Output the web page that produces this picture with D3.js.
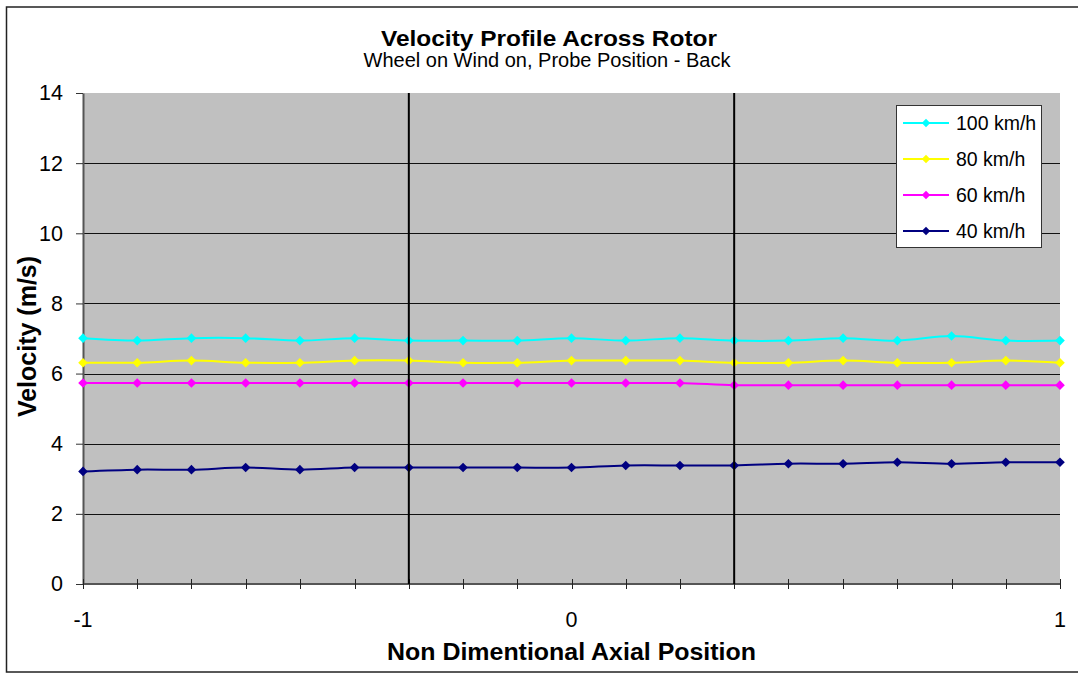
<!DOCTYPE html>
<html>
<head>
<meta charset="utf-8">
<script src="https://cdn.jsdelivr.net/npm/d3@7"></script>
<style>
body { margin: 0; background: #fff; }
svg { display: block; font-family: Arial, "Liberation Sans", sans-serif; }
</style>
</head>
<body>
<svg width="1078" height="673"></svg>
<script>
// axial positions of the probe (non dimentional)
var positions = [-1, -0.889, -0.778, -0.667, -0.556, -0.444, -0.333, -0.222, -0.111, 0,
	0.111, 0.222, 0.333, 0.444, 0.556, 0.667, 0.778, 0.889, 1];

// measured velocity (m/s) per wind speed
var speed100 = [7.01, 6.94, 7.01, 7.01, 6.94, 7.01, 6.94, 6.94, 6.94, 7.01,
	6.94, 7.01, 6.94, 6.94, 7.01, 6.94, 7.07, 6.94, 6.94];
var speed80 = [6.31, 6.31, 6.37, 6.31, 6.31, 6.37, 6.37, 6.31, 6.31, 6.37,
	6.37, 6.37, 6.31, 6.31, 6.37, 6.31, 6.31, 6.37, 6.31];
var speed60 = [5.73, 5.73, 5.73, 5.73, 5.73, 5.73, 5.73, 5.73, 5.73, 5.73,
	5.73, 5.73, 5.67, 5.67, 5.67, 5.67, 5.67, 5.67, 5.67];
var speed40 = [3.21, 3.26, 3.26, 3.32, 3.26, 3.32, 3.32, 3.32, 3.32, 3.32,
	3.38, 3.38, 3.38, 3.43, 3.43, 3.47, 3.43, 3.47, 3.47];

var seriesNames = ["100 km/h", "80 km/h", "60 km/h", "40 km/h"];
var seriesValues = [speed100, speed80, speed60, speed40];
var seriesColors = ["#00ffff", "#ffff00", "#ff00ff", "#000080"];

var yTicks = [0, 2, 4, 6, 8, 10, 12, 14];
var xTickLabels = [-1, 0, 1];
var dividers = [-0.333, 0.333];

var svg = d3.select("svg");
var plotLeft = 83, plotRight = 1060, plotTop = 93, plotBottom = 584;

var x = d3.scaleLinear().domain([-1, 1]).range([plotLeft, plotRight]);
var y = d3.scaleLinear().domain([0, 14]).range([plotBottom, plotTop]);

//outer chart border (runs off the right edge like the original)
svg.append("rect")
	.attr("x", 6.5).attr("y", 7)
	.attr("width", 1080).attr("height", 665)
	.attr("fill", "#fff")
	.attr("stroke", "#222")
	.attr("stroke-width", 1.5);

//plot background
svg.append("rect")
	.attr("x", plotLeft).attr("y", plotTop)
	.attr("width", plotRight - plotLeft).attr("height", plotBottom - plotTop)
	.attr("fill", "#c0c0c0");

//horizontal gridlines
svg.append("g").selectAll("line")
	.data(yTicks.filter(function(d) { return d > 0 && d < 14; }))
	.enter().append("line")
	.attr("x1", plotLeft).attr("x2", plotRight)
	.attr("y1", function(d) { return Math.round(y(d)) + 0.5; })
	.attr("y2", function(d) { return Math.round(y(d)) + 0.5; })
	.attr("stroke", "#111")
	.attr("stroke-width", 1);

//y axis
var yAxis = svg.append("g")
	.attr("transform", "translate(" + plotLeft + ",0)")
	.call(d3.axisLeft(y).tickValues(yTicks).tickSize(7).tickPadding(13).tickSizeOuter(0));
yAxis.select(".domain").attr("stroke", "#555").attr("stroke-width", 2);
yAxis.selectAll(".tick line").attr("stroke", "#333");
yAxis.selectAll(".tick text")
	.attr("font-size", 21.5)
	.attr("font-family", "Arial, 'Liberation Sans', sans-serif")
	.attr("fill", "#000");

//x axis line
svg.append("line")
	.attr("x1", plotLeft).attr("x2", plotRight)
	.attr("y1", plotBottom).attr("y2", plotBottom)
	.attr("stroke", "#555").attr("stroke-width", 2);

//x axis ticks cross the axis line
svg.append("g").selectAll("line")
	.data(positions)
	.enter().append("line")
	.attr("x1", function(d) { return Math.round(x(d)) + 0.5; })
	.attr("x2", function(d) { return Math.round(x(d)) + 0.5; })
	.attr("y1", plotBottom - 5)
	.attr("y2", plotBottom + 5)
	.attr("stroke", "#222");

svg.append("g").selectAll("text")
	.data(xTickLabels)
	.enter().append("text")
	.attr("x", function(d) { return x(d); })
	.attr("y", 627)
	.attr("text-anchor", "middle")
	.attr("font-size", 21.5)
	.text(function(d) { return d; });

//series lines and markers
var line = d3.line()
	.x(function(d, i) { return x(positions[i]); })
	.y(function(d) { return y(d); })
	.curve(d3.curveCatmullRom);

var diamond = "M0,-4.8L4.8,0L0,4.8L-4.8,0Z";

for (var s = 0; s < seriesValues.length; s++)
{
	var g = svg.append("g");
	g.append("path")
		.attr("d", line(seriesValues[s]))
		.attr("fill", "none")
		.attr("stroke", seriesColors[s])
		.attr("stroke-width", 2);
	g.selectAll("path.pt")
		.data(seriesValues[s])
		.enter().append("path")
		.attr("class", "pt")
		.attr("d", diamond)
		.attr("transform", function(d, i) { return "translate(" + x(positions[i]) + "," + y(d) + ")"; })
		.attr("fill", seriesColors[s]);
}

//vertical divider lines
svg.append("g").selectAll("line")
	.data(dividers)
	.enter().append("line")
	.attr("x1", function(d) { return x(d); })
	.attr("x2", function(d) { return x(d); })
	.attr("y1", plotTop).attr("y2", plotBottom)
	.attr("stroke", "#000")
	.attr("stroke-width", 2);

//legend
var legend = svg.append("g").attr("transform", "translate(896,105)");
legend.append("rect")
	.attr("x", 0.5).attr("y", 0.5)
	.attr("width", 145).attr("height", 142)
	.attr("fill", "#fff")
	.attr("stroke", "#333");
var items = legend.selectAll("g.item")
	.data(seriesNames)
	.enter().append("g")
	.attr("class", "item")
	.attr("transform", function(d, i) { return "translate(0," + (18 + i * 36) + ")"; });
items.append("line")
	.attr("x1", 7).attr("x2", 53)
	.attr("stroke", function(d, i) { return seriesColors[i]; })
	.attr("stroke-width", 2);
items.append("path")
	.attr("d", "M0,-4.2L4.2,0L0,4.2L-4.2,0Z")
	.attr("transform", "translate(30,0)")
	.attr("fill", function(d, i) { return seriesColors[i]; });
items.append("text")
	.attr("x", 60)
	.attr("dy", "0.35em")
	.attr("font-size", 19.5)
	.text(function(d) { return d; });

//titles
svg.append("text")
	.attr("x", 549).attr("y", 46)
	.attr("text-anchor", "middle")
	.attr("font-size", 22)
	.attr("font-weight", "bold")
	.attr("textLength", 336)
	.attr("lengthAdjust", "spacingAndGlyphs")
	.text("Velocity Profile  Across Rotor");
svg.append("text")
	.attr("x", 547).attr("y", 67)
	.attr("text-anchor", "middle")
	.attr("font-size", 20)
	.text("Wheel on Wind on, Probe Position - Back");

svg.append("text")
	.attr("x", (plotLeft + plotRight) / 2).attr("y", 660)
	.attr("text-anchor", "middle")
	.attr("font-size", 24)
	.attr("font-weight", "bold")
	.attr("textLength", 369)
	.attr("lengthAdjust", "spacingAndGlyphs")
	.text("Non Dimentional Axial Position");

svg.append("text")
	.attr("transform", "translate(36," + ((plotTop + plotBottom) / 2 - 2) + ") rotate(-90)")
	.attr("text-anchor", "middle")
	.attr("font-size", 25)
	.attr("font-weight", "bold")
	.text("Velocity (m/s)");
</script>
</body>
</html>
